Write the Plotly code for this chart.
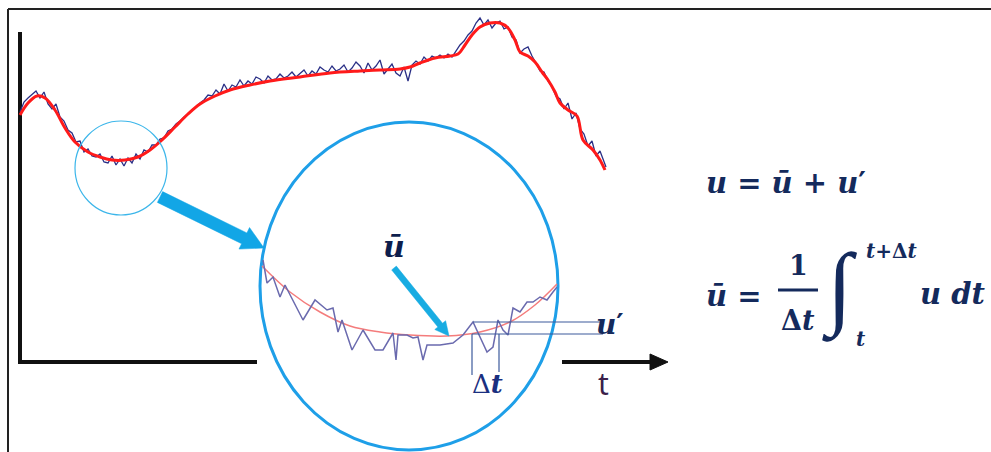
import plotly.graph_objects as go
import math

# ---------------- data ----------------
# noisy signal u(t) (pixel-space coordinates of the diagram)
sig_t = [20, 24, 28, 32, 36, 40, 44, 48, 52, 56, 60, 64, 68, 72, 76, 80, 84, 88, 92, 96,
         100, 104, 108, 112, 116, 120, 124, 128, 132, 136, 140, 144, 148, 152, 156, 160,
         164, 168, 172, 176, 180, 184, 188, 192, 196, 200, 204, 208, 212, 216, 220, 224,
         228, 232, 236, 240, 244, 248, 252, 256, 260, 264, 268, 272, 276, 280, 284, 288,
         292, 296, 300, 304, 308, 312, 316, 320, 324, 328, 332, 336, 340, 344, 348, 352,
         356, 360, 364, 368, 372, 376, 380, 384, 388, 392, 396, 400, 404, 408, 412, 416,
         420, 424, 428, 432, 436, 440, 444, 448, 452, 456, 460, 464, 468, 472, 476, 480,
         484, 488, 492, 496, 500, 504, 508, 512, 516, 520, 524, 528, 532, 536, 540, 544,
         548, 552, 556, 560, 564, 568, 572, 576, 580, 584, 588, 592, 596, 600, 604, 606]
sig_u = [112, 102, 98, 94, 91, 98, 92, 104, 109, 104, 117, 121, 130, 133, 142, 141, 152, 149, 156, 157,
         154, 162, 163, 156, 165, 159, 166, 158, 163, 154, 159, 150, 152, 145, 145, 139,
         138, 131, 129, 124, 121, 117, 114, 110, 107, 103, 100, 95, 96, 90, 94, 84,
         91, 85, 87, 80, 86, 81, 84, 77, 79, 83, 76, 80, 79, 74, 78, 76,
         72, 77, 73, 70, 76, 71, 74, 67, 70, 72, 66, 71, 69, 65, 72, 68,
         62, 66, 73, 63, 70, 66, 60, 74, 69, 64, 73, 76, 67, 81, 65, 61,
         64, 57, 61, 56, 58, 55, 58, 54, 57, 51, 45, 41, 35, 31, 23, 18,
         25, 20, 28, 23, 21, 29, 27, 37, 40, 53, 49, 47, 56, 63, 71, 72,
         81, 87, 96, 99, 109, 103, 119, 113, 129, 134, 146, 141, 156, 151, 163, 167]

# mean signal ū(t)
mean_t = [20, 28, 37, 45, 55, 65, 75, 88, 100, 112, 125, 138, 150, 162, 175, 188, 200,
          215, 230, 250, 270, 300, 330, 360, 380, 400, 410, 420, 435, 450, 458, 465,
          472, 480, 490, 500, 508, 515, 520, 528, 535, 542, 548, 555, 560, 568, 577,
          583, 593, 600, 605]
mean_u = [115, 103, 96, 98, 110, 128, 142, 152, 157, 160, 160, 157, 150, 140, 127, 114, 104,
          96, 90, 85, 81, 77, 73, 71, 70, 69, 67, 63, 58, 56, 54, 45,
          35, 27, 23, 23, 28, 40, 52, 56, 62, 72, 80, 92, 103, 110, 116,
          140, 150, 160, 170]

# zoomed-in detail
zoom_t = [263, 267, 273, 280, 285, 293, 303, 315, 327, 333, 338, 342, 352, 363, 375, 383,
          393, 396, 398, 407, 413, 418, 423, 427, 440, 453, 463, 473, 480, 487, 493, 498,
          503, 508, 513, 520, 527, 533, 540, 547, 553, 557]
zoom_u = [260, 283, 277, 297, 285, 300, 320, 300, 310, 308, 332, 320, 350, 330, 350, 350,
          333, 360, 335, 335, 338, 337, 360, 345, 345, 343, 335, 322, 337, 352, 347, 320,
          330, 335, 308, 312, 302, 302, 297, 300, 292, 287]
zmean_t = [262, 290, 320, 350, 380, 410, 447, 480, 510, 535, 557]
zmean_u = [266, 292, 312, 326, 332, 335, 336, 332, 322, 305, 284]

NAVY = "#142a5c"
fig = go.Figure()

# axes of the sketch
fig.add_trace(go.Scatter(x=[20, 20, 257], y=[32, 362, 362], mode="lines",
                         line=dict(color="#111111", width=4), hoverinfo="skip"))
fig.add_trace(go.Scatter(x=[562, 652], y=[362, 362], mode="lines",
                         line=dict(color="#111111", width=4), hoverinfo="skip"))
fig.add_trace(go.Scatter(x=[650, 668, 650, 650], y=[354, 362, 370, 354], mode="lines",
                         fill="toself", fillcolor="#111111",
                         line=dict(color="#111111", width=1), hoverinfo="skip"))

# signals
fig.add_trace(go.Scatter(x=sig_t, y=sig_u, mode="lines",
                         line=dict(color="#2a2f86", width=1.3), hoverinfo="skip"))
fig.add_trace(go.Scatter(x=mean_t, y=mean_u, mode="lines", line_shape="spline",
                         line=dict(color="#ff1a1a", width=3), hoverinfo="skip"))

# zoom detail
fig.add_trace(go.Scatter(x=zmean_t, y=zmean_u, mode="lines", line_shape="spline",
                         line=dict(color="#f47c7c", width=1.5), hoverinfo="skip"))
fig.add_trace(go.Scatter(x=zoom_t, y=zoom_u, mode="lines",
                         line=dict(color="#6a6aae", width=1.5), hoverinfo="skip"))

# delta t bracket
BR = "#3c5a9c"
for xs, ys in [([473, 603], [322, 322]), ([472, 603], [334, 334]),
               ([472, 472], [334, 375]), ([499, 499], [334, 372])]:
    fig.add_trace(go.Scatter(x=xs, y=ys, mode="lines", line=dict(color=BR, width=1.2),
                             hoverinfo="skip"))


def arrow(p0, p1, half_w, head_w, head_l, color):
    dx, dy = p1[0] - p0[0], p1[1] - p0[1]
    L = math.hypot(dx, dy)
    ux, uy = dx / L, dy / L
    nx, ny = -uy, ux
    bx, by = p1[0] - ux * head_l, p1[1] - uy * head_l
    pts = [(p0[0] + nx * half_w, p0[1] + ny * half_w),
           (bx + nx * half_w, by + ny * half_w),
           (bx + nx * head_w, by + ny * head_w),
           p1,
           (bx - nx * head_w, by - ny * head_w),
           (bx - nx * half_w, by - ny * half_w),
           (p0[0] - nx * half_w, p0[1] - ny * half_w)]
    pts.append(pts[0])
    fig.add_trace(go.Scatter(x=[p[0] for p in pts], y=[p[1] for p in pts], mode="lines",
                             fill="toself", fillcolor=color, line=dict(color=color, width=0.5),
                             hoverinfo="skip"))


arrow((160, 197), (264, 248), 6, 12, 22, "#12a6e6")
arrow((394, 268), (449, 336), 3, 7, 14, "#18ace2")

shapes = [
    dict(type="circle", xref="x", yref="y", x0=260, x1=558, y0=122, y1=450,
         line=dict(color="#1e9fe8", width=3), fillcolor="white", layer="below"),
    dict(type="circle", xref="x", yref="y", x0=75, x1=167, y0=121, y1=215,
         line=dict(color="#3cb6ea", width=1.2), layer="above"),
    dict(type="line", xref="x", yref="y", x0=8, x1=991, y0=9, y1=9,
         line=dict(color="#222222", width=2)),
    dict(type="line", xref="x", yref="y", x0=8, x1=8, y0=9, y1=452,
         line=dict(color="#222222", width=2)),
    dict(type="line", xref="x", yref="y", x0=778, x1=818, y0=290, y1=290,
         line=dict(color=NAVY, width=3)),
]

MF = "DejaVu Serif"


def ann(x, y, text, size, color=NAVY, family=MF, xanchor="center"):
    return dict(x=x, y=y, xref="x", yref="y", text=text, showarrow=False,
                font=dict(family=family, size=size, color=color),
                xanchor=xanchor, yanchor="middle", borderpad=0)


annotations = [
    ann(394, 246, "<b><i>ū</i></b>", 30, color="#0d1e4d"),
    ann(610, 324, "<b><i>u</i>′</b>", 28),
    ann(487, 384, "Δ<i><b>t</b></i>", 26, color="#1a2f80"),
    ann(603, 383, "t", 30, color="#3b1f4a", family="Noto Sans"),
    ann(705, 183, "<b><i>u</i> = <i>ū</i> + <i>u</i>′</b>", 29, xanchor="left"),
    ann(705, 296, "<b><i>ū</i> =</b>", 29, xanchor="left"),
    ann(798, 265, "<b>1</b>", 27),
    ann(798, 320, "<b>Δ<i>t</i></b>", 27),
    ann(839, 288, "<i>∫</i>", 92, family="Liberation Serif"),
    ann(892, 251, "<b><i>t</i>+Δ<i>t</i></b>", 20),
    ann(861, 339, "<b><i>t</i></b>", 20),
    ann(952, 294, "<b><i>u dt</i></b>", 29),
]

fig.update_layout(
    width=991, height=452, margin=dict(l=0, r=0, t=0, b=0),
    paper_bgcolor="white", plot_bgcolor="white", showlegend=False,
    xaxis=dict(range=[0, 991], visible=False, fixedrange=True),
    yaxis=dict(range=[452, 0], visible=False, fixedrange=True),
    shapes=shapes, annotations=annotations,
)

fig.write_html("out.html", post_script="document.body.style.margin='0';",
               config={"displayModeBar": False})
